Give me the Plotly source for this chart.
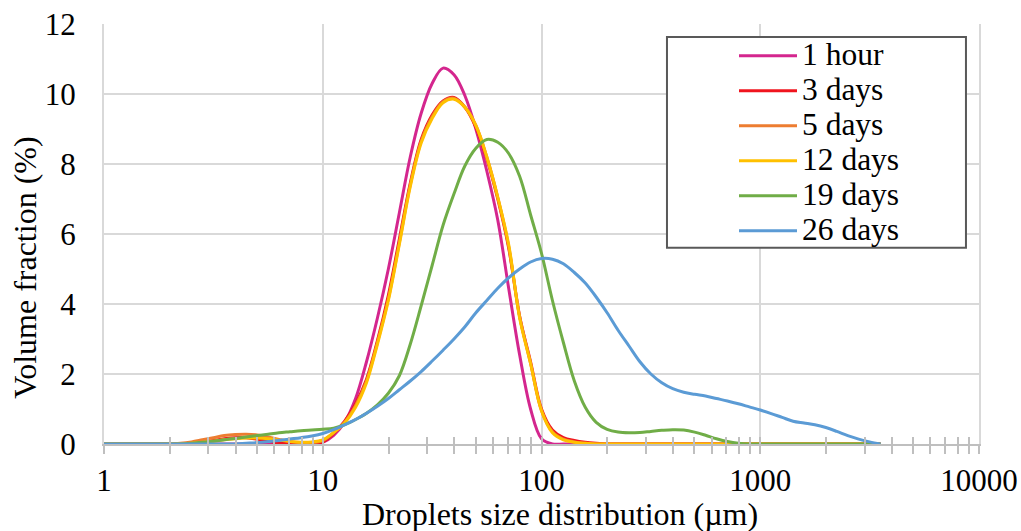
import plotly.graph_objects as go

# Droplet size bins (µm), log-spaced
sizes_um = [
    1.000, 1.122, 1.259, 1.413, 1.585, 1.778, 1.995, 2.239, 2.512, 2.818,
    3.162, 3.548, 3.981, 4.467, 5.012, 5.623, 6.310, 7.079, 7.943, 8.913,
    10.00, 11.22, 12.59, 14.13, 15.85, 17.78, 19.95, 22.39, 25.12, 28.18,
    31.62, 35.48, 39.81, 44.67, 50.12, 56.23, 63.10, 70.79, 79.43, 89.13,
    100.0, 112.2, 125.9, 141.3, 158.5, 177.8, 199.5, 223.9, 251.2, 281.8,
    316.2, 354.8, 398.1, 446.7, 501.2, 562.3, 631.0, 707.9, 794.3, 891.3,
    1000, 1122, 1259, 1413, 1585, 1778, 1995, 2239, 2512, 2818,
    3162, 3548,
]

# Volume fraction (%) per bin for each storage time
vol_1_hour = [
    0, 0, 0, 0, 0, 0, 0, 0, 0, 0,
    0, 0, 0, 0, 0, 0, 0, 0, 0, 0,
    0.05, 0.25, 0.62, 1.3, 2.35, 3.6, 5.0, 6.6, 8.2, 9.45,
    10.3, 10.74, 10.55, 9.95, 9.0, 7.8, 6.4, 4.45, 2.55, 1.0,
    0.15, 0, 0, 0, 0, 0, 0, 0, 0, 0,
    0, 0, 0, 0, 0, 0, 0, 0, 0, 0,
    0, 0, 0, 0, 0, 0, 0, 0, 0, 0,
    0, 0,
]
vol_3_days = [
    0, 0, 0, 0, 0, 0, 0, 0, 0.02, 0.05,
    0.1, 0.15, 0.18, 0.18, 0.14, 0.08, 0.03, 0.01, 0, 0.02,
    0.06, 0.3, 0.65, 1.15, 1.85, 2.95, 4.25, 5.85, 7.45, 8.7,
    9.4, 9.8, 9.9, 9.62, 9.05, 8.15, 7.0, 5.6, 3.65, 2.35,
    1.0, 0.4, 0.18, 0.1, 0.05, 0.02, 0, 0, 0, 0,
    0, 0, 0, 0, 0, 0, 0, 0, 0, 0,
    0, 0, 0, 0, 0, 0, 0, 0, 0, 0,
    0, 0,
]
vol_5_days = [
    0, 0, 0, 0, 0, 0, 0, 0.02, 0.06, 0.12,
    0.18, 0.24, 0.27, 0.28, 0.26, 0.2, 0.13, 0.07, 0.04, 0.04,
    0.1, 0.32, 0.62, 1.1, 1.8, 2.9, 4.15, 5.75, 7.4, 8.65,
    9.35, 9.78, 9.88, 9.62, 9.1, 8.2, 7.05, 5.65, 3.65, 2.3,
    0.95, 0.35, 0.14, 0.06, 0.02, 0, 0, 0, 0, 0,
    0, 0, 0, 0, 0, 0, 0, 0, 0, 0,
    0, 0, 0, 0, 0, 0, 0, 0, 0, 0,
    0, 0,
]
vol_12_days = [
    0, 0, 0, 0, 0, 0, 0, 0, 0.02, 0.05,
    0.08, 0.12, 0.15, 0.17, 0.17, 0.15, 0.11, 0.07, 0.05, 0.06,
    0.12, 0.33, 0.6, 1.05, 1.75, 2.85, 4.1, 5.7, 7.35, 8.6,
    9.3, 9.75, 9.85, 9.62, 9.1, 8.2, 7.05, 5.7, 3.6, 2.3,
    0.95, 0.32, 0.12, 0.05, 0.02, 0, 0, 0, 0, 0,
    0, 0, 0, 0, 0, 0, 0, 0, 0, 0,
    0, 0, 0, 0, 0, 0, 0, 0, 0, 0,
    0, 0,
]
vol_19_days = [
    0, 0, 0, 0, 0, 0, 0, 0, 0.02, 0.05,
    0.08, 0.12, 0.16, 0.2, 0.24, 0.28, 0.32, 0.35, 0.38, 0.4,
    0.42, 0.45, 0.55, 0.7, 0.88, 1.12, 1.45, 1.95, 2.85, 3.95,
    5.1, 6.25, 7.15, 7.95, 8.45, 8.7, 8.62, 8.3, 7.65, 6.55,
    5.45, 4.1, 2.9, 1.8, 1.05, 0.62, 0.42, 0.34, 0.32, 0.33,
    0.36, 0.39, 0.41, 0.4, 0.34, 0.25, 0.15, 0.07, 0.02, 0,
    0, 0, 0, 0, 0, 0, 0, 0, 0, 0,
    0, 0,
]
vol_26_days = [
    0, 0, 0, 0, 0, 0, 0, 0, 0, 0,
    0, 0, 0, 0.02, 0.04, 0.07, 0.1, 0.14, 0.18, 0.23,
    0.3, 0.41, 0.55, 0.7, 0.88, 1.08, 1.3, 1.55, 1.8, 2.07,
    2.37, 2.68, 3.0, 3.35, 3.75, 4.1, 4.45, 4.75, 5.0, 5.2,
    5.3, 5.28, 5.15, 4.9, 4.6, 4.2, 3.75, 3.25, 2.8, 2.35,
    2.0, 1.75, 1.58, 1.48, 1.42, 1.37, 1.3, 1.23, 1.15, 1.06,
    0.97, 0.87, 0.76, 0.65, 0.6, 0.55, 0.47, 0.36, 0.24, 0.14,
    0.06, 0,
]

series_names = ["1 hour", "3 days", "5 days", "12 days", "19 days", "26 days"]
series_values = [vol_1_hour, vol_3_days, vol_5_days, vol_12_days, vol_19_days, vol_26_days]
series_colors = ["#D4268E", "#F0141E", "#ED7D31", "#FFC000", "#70AD47", "#5B9BD5"]

x_tick_vals = [1, 10, 100, 1000, 10000]
x_tick_text = ["1", "10", "100", "1000", "10000"]
x_minor_vals = [m * 10 ** d for d in range(4) for m in range(2, 10)]

SERIF = "Liberation Serif, Times New Roman, serif"
GRID = "#D9D9D9"
AXIS = "#BFBFBF"
TICK_SIZE = 31
TITLE_SIZE = 32
LEGEND_TEXT_SIZE = 31.5

fig = go.Figure()
for name, vals, col in zip(series_names, series_values, series_colors):
    fig.add_trace(go.Scatter(
        x=sizes_um, y=vals, mode="lines",
        name=f'<span style="font-size:{LEGEND_TEXT_SIZE}px">{name}</span>',
        line=dict(color=col, width=3, shape="spline", smoothing=1.0),
    ))

# empty trace so the overlay axis (upper half of the tick marks) is drawn
fig.add_trace(go.Scatter(x=[], y=[], xaxis="x2", showlegend=False, hoverinfo="skip"))

fig.update_layout(
    width=1021, height=531,
    margin=dict(l=104, r=42, t=24, b=87, autoexpand=False),
    paper_bgcolor="white", plot_bgcolor="white",
    font=dict(family=SERIF, size=TICK_SIZE, color="black"),
    showlegend=True,
    legend=dict(
        x=0.72, y=0.978, xanchor="left", yanchor="top",
        bgcolor="rgba(0,0,0,0)", borderwidth=0,
        font=dict(family=SERIF, size=24.6, color="black"),
        itemwidth=58,
    ),
    xaxis=dict(
        type="log", range=[0, 4], automargin=False,
        tickvals=x_tick_vals, ticktext=x_tick_text,
        showgrid=True, gridcolor=GRID, gridwidth=2,
        showline=True, linecolor=AXIS, linewidth=2,
        ticks="outside", ticklen=8, tickwidth=2, tickcolor=AXIS,
        minor=dict(tickvals=x_minor_vals, ticks="outside", ticklen=8,
                   tickwidth=2, tickcolor=AXIS, showgrid=False),
        tickfont=dict(family=SERIF, size=TICK_SIZE, color="black"),
        zeroline=False,
    ),
    xaxis2=dict(
        type="log", range=[0, 4], overlaying="x", anchor="y", side="bottom",
        automargin=False,
        tickvals=x_tick_vals, showticklabels=False, showgrid=False,
        ticks="inside", ticklen=7, tickwidth=2, tickcolor=AXIS,
        minor=dict(tickvals=x_minor_vals, ticks="inside", ticklen=7,
                   tickwidth=2, tickcolor=AXIS, showgrid=False),
        showline=False, zeroline=False,
    ),
    yaxis=dict(
        range=[0, 12], dtick=2, tick0=0, automargin=False,
        showgrid=True, gridcolor=GRID, gridwidth=2,
        showline=True, linecolor=GRID, linewidth=2, mirror=True,
        ticks="", ticklabelstandoff=20,
        tickfont=dict(family=SERIF, size=TICK_SIZE, color="black"),
        zeroline=False,
    ),
    shapes=[dict(
        type="rect", xref="paper", yref="paper",
        x0=0.6434, x1=0.9851, y0=0.467, y1=0.969,
        line=dict(color="#595959", width=2), fillcolor="white", layer="above",
    )],
    annotations=[
        dict(text="Volume fraction (%)", xref="paper", yref="paper",
             x=-0.0905, y=0.419, xanchor="center", yanchor="middle",
             textangle=-90, showarrow=False,
             font=dict(family=SERIF, size=TITLE_SIZE, color="black")),
        dict(text="Droplets size distribution (µm)", xref="paper", yref="paper",
             x=0.521, y=-0.167, xanchor="center", yanchor="middle",
             showarrow=False,
             font=dict(family=SERIF, size=TITLE_SIZE, color="black")),
    ],
)

fig.write_html("out.html")
